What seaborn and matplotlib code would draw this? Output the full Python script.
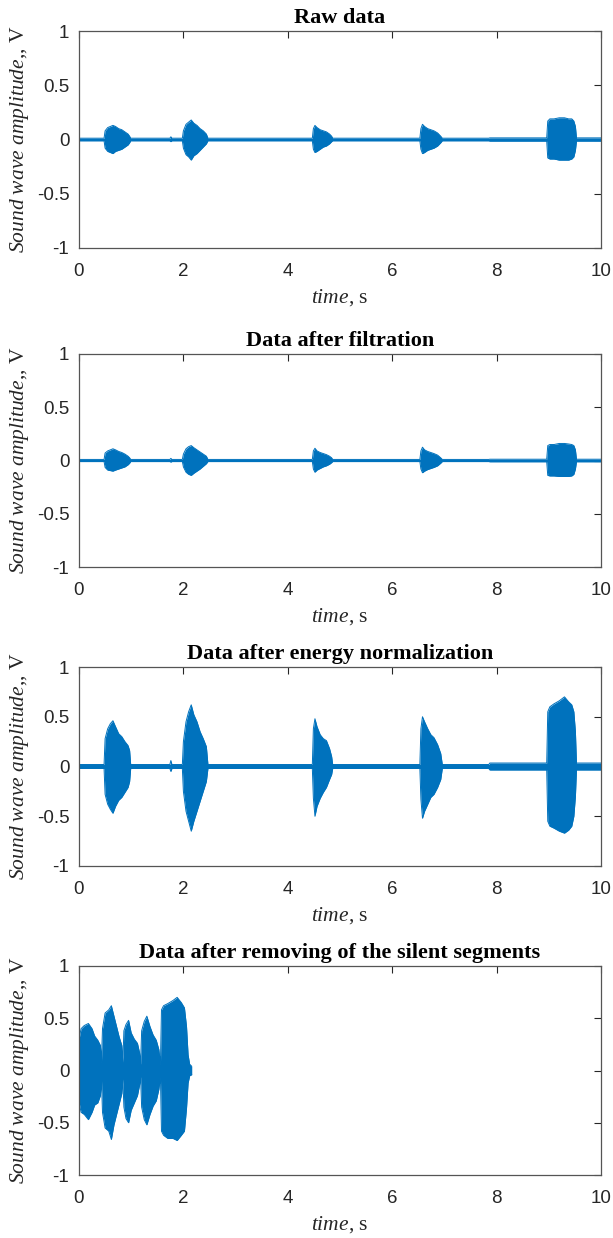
import numpy as np
import pandas as pd
import matplotlib
matplotlib.use('Agg')
import matplotlib.pyplot as plt
import seaborn as sns

# envelope of the sound wave (time in s, amplitude in V)
# same time knots for the first three panels
t_knots = ([0.00]
           + [0.48, 0.50, 0.55, 0.60, 0.65, 0.70, 0.76, 0.82, 0.88, 0.94, 0.97, 0.99]
           + [1.74, 1.76, 1.78]
           + [1.98, 2.00, 2.05, 2.10, 2.15, 2.20, 2.26, 2.32, 2.38, 2.44, 2.47]
           + [4.47, 4.49, 4.52, 4.56, 4.62, 4.68, 4.74, 4.80, 4.84, 4.86]
           + [6.53, 6.55, 6.58, 6.62, 6.68, 6.74, 6.80, 6.87, 6.93, 6.96]
           + [7.85, 7.87]
           + [8.96, 8.98, 9.02, 9.10, 9.20, 9.30, 9.38, 9.44, 9.48, 9.51, 9.53]
           + [10.00])

raw_up = ([0.012]
          + [0.012, 0.08, 0.11, 0.12, 0.13, 0.12, 0.10, 0.09, 0.07, 0.05, 0.03, 0.012]
          + [0.012, 0.025, 0.012]
          + [0.012, 0.08, 0.14, 0.16, 0.18, 0.15, 0.13, 0.10, 0.08, 0.05, 0.012]
          + [0.012, 0.10, 0.13, 0.11, 0.09, 0.08, 0.07, 0.05, 0.03, 0.012]
          + [0.012, 0.10, 0.14, 0.12, 0.10, 0.09, 0.08, 0.06, 0.03, 0.012]
          + [0.012, 0.015]
          + [0.015, 0.17, 0.19, 0.19, 0.20, 0.20, 0.19, 0.19, 0.17, 0.12, 0.015]
          + [0.015])
raw_lo = ([-0.012]
          + [-0.012, -0.08, -0.11, -0.12, -0.13, -0.11, -0.10, -0.09, -0.07, -0.05, -0.03, -0.012]
          + [-0.012, -0.02, -0.012]
          + [-0.012, -0.08, -0.14, -0.16, -0.19, -0.15, -0.13, -0.10, -0.07, -0.04, -0.012]
          + [-0.012, -0.09, -0.12, -0.11, -0.09, -0.07, -0.06, -0.04, -0.02, -0.012]
          + [-0.012, -0.09, -0.13, -0.12, -0.10, -0.09, -0.08, -0.06, -0.03, -0.012]
          + [-0.012, -0.015]
          + [-0.015, -0.17, -0.18, -0.18, -0.19, -0.19, -0.19, -0.18, -0.16, -0.10, -0.015]
          + [-0.015])

filt_up = ([0.010]
           + [0.010, 0.07, 0.09, 0.10, 0.11, 0.10, 0.085, 0.075, 0.06, 0.04, 0.025, 0.010]
           + [0.010, 0.02, 0.010]
           + [0.010, 0.06, 0.11, 0.13, 0.14, 0.12, 0.10, 0.08, 0.06, 0.04, 0.010]
           + [0.010, 0.09, 0.115, 0.09, 0.075, 0.065, 0.055, 0.04, 0.025, 0.010]
           + [0.010, 0.09, 0.125, 0.10, 0.085, 0.075, 0.065, 0.05, 0.025, 0.010]
           + [0.010, 0.012]
           + [0.012, 0.14, 0.15, 0.15, 0.16, 0.16, 0.155, 0.15, 0.14, 0.10, 0.012]
           + [0.012])
filt_lo = ([-0.010]
           + [-0.010, -0.065, -0.09, -0.095, -0.10, -0.09, -0.08, -0.07, -0.06, -0.04, -0.025, -0.010]
           + [-0.010, -0.015, -0.010]
           + [-0.010, -0.06, -0.11, -0.13, -0.14, -0.12, -0.10, -0.08, -0.055, -0.03, -0.010]
           + [-0.010, -0.08, -0.11, -0.09, -0.075, -0.06, -0.05, -0.035, -0.02, -0.010]
           + [-0.010, -0.08, -0.115, -0.10, -0.085, -0.075, -0.065, -0.05, -0.025, -0.010]
           + [-0.010, -0.012]
           + [-0.012, -0.14, -0.145, -0.145, -0.15, -0.15, -0.15, -0.145, -0.13, -0.08, -0.012]
           + [-0.012])

norm_up = ([0.02]
           + [0.02, 0.28, 0.38, 0.43, 0.46, 0.40, 0.33, 0.30, 0.25, 0.21, 0.16, 0.02]
           + [0.02, 0.06, 0.02]
           + [0.02, 0.25, 0.45, 0.55, 0.62, 0.52, 0.45, 0.35, 0.28, 0.20, 0.02]
           + [0.02, 0.38, 0.48, 0.40, 0.32, 0.28, 0.26, 0.18, 0.10, 0.02]
           + [0.02, 0.38, 0.50, 0.45, 0.38, 0.32, 0.29, 0.22, 0.13, 0.02]
           + [0.02, 0.035]
           + [0.035, 0.55, 0.60, 0.63, 0.66, 0.70, 0.65, 0.62, 0.55, 0.35, 0.035]
           + [0.035])
norm_lo = ([-0.02]
           + [-0.02, -0.28, -0.38, -0.43, -0.47, -0.40, -0.34, -0.31, -0.26, -0.21, -0.15, -0.02]
           + [-0.02, -0.05, -0.02]
           + [-0.02, -0.25, -0.45, -0.55, -0.65, -0.55, -0.45, -0.35, -0.25, -0.15, -0.02]
           + [-0.02, -0.32, -0.50, -0.40, -0.32, -0.26, -0.21, -0.13, -0.08, -0.02]
           + [-0.02, -0.33, -0.52, -0.45, -0.38, -0.31, -0.28, -0.21, -0.13, -0.02]
           + [-0.02, -0.035]
           + [-0.035, -0.55, -0.60, -0.62, -0.65, -0.67, -0.64, -0.60, -0.50, -0.30, -0.035]
           + [-0.035])

# after the silent parts are cut out
t_seg = ([0.00, 0.04, 0.10, 0.18, 0.25, 0.30, 0.36, 0.41, 0.43]
         + [0.45, 0.50, 0.57, 0.62, 0.67, 0.72, 0.77, 0.82, 0.84]
         + [0.86, 0.90, 0.95, 1.00, 1.06, 1.12, 1.16, 1.18]
         + [1.20, 1.25, 1.30, 1.36, 1.42, 1.48, 1.53, 1.56]
         + [1.58, 1.62, 1.70, 1.80, 1.88, 1.96, 2.02, 2.06, 2.09, 2.12, 2.16])
seg_up = ([0.30, 0.40, 0.43, 0.45, 0.40, 0.33, 0.29, 0.24, 0.08]
          + [0.40, 0.55, 0.58, 0.62, 0.52, 0.42, 0.32, 0.24, 0.08]
          + [0.38, 0.44, 0.48, 0.36, 0.30, 0.26, 0.17, 0.06]
          + [0.38, 0.47, 0.52, 0.42, 0.34, 0.29, 0.20, 0.06]
          + [0.58, 0.62, 0.64, 0.67, 0.70, 0.65, 0.60, 0.42, 0.15, 0.06, 0.04])
seg_lo = ([-0.30, -0.40, -0.42, -0.47, -0.40, -0.33, -0.31, -0.24, -0.08]
          + [-0.40, -0.55, -0.58, -0.66, -0.52, -0.42, -0.32, -0.22, -0.08]
          + [-0.35, -0.46, -0.50, -0.38, -0.31, -0.24, -0.14, -0.06]
          + [-0.35, -0.47, -0.52, -0.42, -0.34, -0.29, -0.18, -0.06]
          + [-0.58, -0.62, -0.65, -0.65, -0.67, -0.62, -0.58, -0.36, -0.12, -0.05, -0.04])

titles = ['Raw data', 'Data after filtration', 'Data after energy normalization',
          'Data after removing of the silent segments']
x_ticks = [0, 2, 4, 6, 8, 10]
y_ticks = [-1, -0.5, 0, 0.5, 1]
y_ticklabels = ['-1', '-0.5', '0', '0.5', '1']

LINE = '#0072BD'
AXC = '#262626'


def main():
    sns.set_theme(style='white')
    plt.rcParams['font.family'] = ['Liberation Sans', 'DejaVu Sans']
    plt.rcParams['mathtext.fontset'] = 'custom'
    plt.rcParams['mathtext.it'] = 'Liberation Serif:italic'
    plt.rcParams['mathtext.rm'] = 'Liberation Serif'
    plt.rcParams['axes.unicode_minus'] = False

    fig = plt.figure(figsize=(6.13, 12.38), dpi=100)
    W, H = 613, 1238
    boxes = [(31, 248), (354, 567), (667, 866), (966, 1175)]
    panels = [(t_knots, raw_up, raw_lo), (t_knots, filt_up, filt_lo),
              (t_knots, norm_up, norm_lo), (t_seg, seg_up, seg_lo)]

    for (top, bot), title, (t, up, lo) in zip(boxes, titles, panels):
        ax = fig.add_axes([79 / W, 1 - bot / H, (601 - 79) / W, (bot - top) / H])
        df = pd.DataFrame({'time': t, 'up': up, 'lo': lo})
        ax.fill_between(df['time'], df['lo'], df['up'], color=LINE, lw=0)
        sns.lineplot(data=df, x='time', y='up', ax=ax, color=LINE, lw=0.7)
        sns.lineplot(data=df, x='time', y='lo', ax=ax, color=LINE, lw=0.7)

        ax.set_xlim(0, 10)
        ax.set_ylim(-1, 1)
        ax.set_xticks(x_ticks)
        ax.set_xticklabels([str(v) for v in x_ticks])
        ax.set_yticks(y_ticks)
        ax.set_yticklabels(y_ticklabels)
        ax.tick_params(direction='in', top=True, right=True, length=5, width=0.8,
                       colors=AXC, labelsize=13.5)
        ax.tick_params(axis='x', pad=11)
        ax.tick_params(axis='y', pad=7)
        for sp in ax.spines.values():
            sp.set_color('#555555')
            sp.set_linewidth(0.9)

        ax.set_title(title, fontfamily='Liberation Serif', fontweight='bold',
                     fontsize=16, color='black', pad=6)
        ax.set_xlabel(r'$\mathit{time}$, s', fontfamily='Liberation Serif',
                      fontsize=15.5, color=AXC, labelpad=5)
        ax.set_ylabel(r'$\mathit{Sound\ wave\ amplitude}$,, V', fontfamily='Liberation Serif',
                      fontsize=15.5, color=AXC, labelpad=4)

    fig.savefig('out.png', dpi=100)


if __name__ == '__main__':
    main()
